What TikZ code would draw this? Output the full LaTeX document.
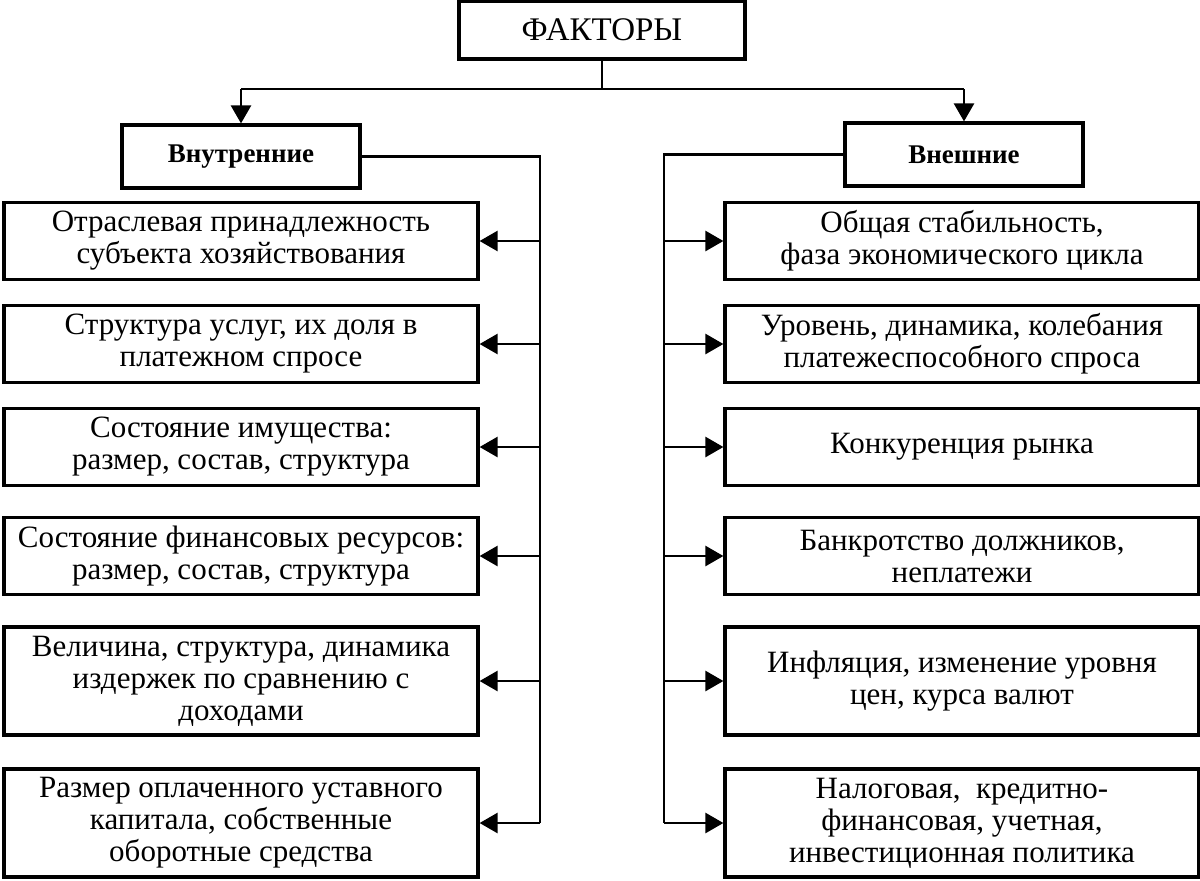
\documentclass[tikz,border=0pt]{standalone}
\usepackage{fontspec}
\setmainfont{Liberation Serif}
\usetikzlibrary{arrows.meta}

\begin{document}
\begin{tikzpicture}[x=0.5pt,y=-0.5pt]
        \tikzstyle{every node}=[draw, line width=1.6pt, align=center, inner sep=0pt, font=\fontsize{15.5}{16}\selectfont];
        \tikzstyle{fbox}=[minimum width=237pt, minimum height=38.5pt];
        \tikzstyle{tallbox}=[minimum width=237pt, minimum height=54pt];
        \tikzstyle{head}=[minimum width=119pt, minimum height=31.5pt, font=\fontsize{13.5}{16}\selectfont\bfseries];
        \tikzstyle{link}=[line width=1.3pt];
        \tikzstyle{arr}=[link, -{Triangle[length=9pt,width=10pt]}];
        \useasboundingbox (0,0) rectangle (1200,880);

        \node[minimum width=143pt, minimum height=29pt, font=\fontsize{16.5}{16}\selectfont] (fak) at (602,30) {ФАКТОРЫ};
        \node[head] (vn) at (241,156.5) {Внутренние};
        \node[head] (vs) at (964,154.5) {Внешние};

        % left column
        \node[fbox] (l1) at (241,241) {Отраслевая принадлежность\\субъекта хозяйствования};
        \node[fbox] (l2) at (241,344) {Структура услуг, их доля в\\платежном спросе};
        \node[fbox] (l3) at (241,447) {Состояние имущества:\\размер, состав, структура};
        \node[fbox] (l4) at (241,556) {Состояние финансовых ресурсов:\\размер, состав, структура};
        \node[tallbox] (l5) at (241,681) {Величина, структура, динамика\\издержек по сравнению с\\доходами};
        \node[tallbox] (l6) at (241,823) {Размер оплаченного уставного\\капитала, собственные\\оборотные средства};

        % right column
        \node[fbox] (r1) at (962,241) {Общая стабильность,\\фаза экономического цикла};
        \node[fbox] (r2) at (962,344) {Уровень, динамика, колебания\\платежеспособного спроса};
        \node[fbox] (r3) at (962,447) {Конкуренция рынка};
        \node[fbox] (r4) at (962,556) {Банкротство должников,\\неплатежи};
        \node[tallbox] (r5) at (962,681) {Инфляция, изменение уровня\\цен, курса валют};
        \node[tallbox] (r6) at (962,823) {Налоговая,~ кредитно-\\финансовая, учетная,\\инвестиционная политика};

        \coordinate (fork) at (602,89);
        \coordinate (lsp) at (540,0);
        \coordinate (rsp) at (664,0);

        \draw[link] (fak.south) -- (fork);
        \draw[link] (vn.north |- fork) -- (vs.north |- fork);
        \draw[arr] (vn.north |- fork) -- (vn.north);
        \draw[arr] (vs.north |- fork) -- (vs.north);

        \draw[link] (vn.east) -| (lsp |- l6.east);
        \draw[link] (vs.west) -| (rsp |- r6.west);
        \foreach \n in {1,...,6} {
            \draw[arr] (lsp |- l\n.east) -- (l\n.east);
            \draw[arr] (rsp |- r\n.west) -- (r\n.west);
        }
\end{tikzpicture}
\end{document}
